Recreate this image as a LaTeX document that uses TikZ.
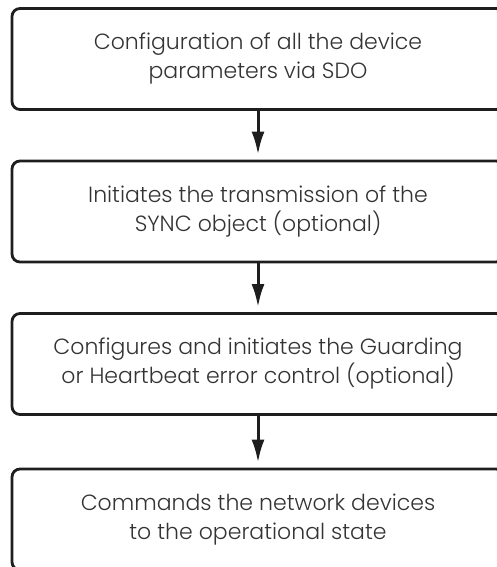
\documentclass[tikz,border=0pt]{standalone}
\usepackage{fontspec}
\setmainfont{Poppins}[UprightFont=* Light]
\usetikzlibrary{arrows.meta}
\definecolor{ink}{HTML}{1E1E1E}
\definecolor{txt}{HTML}{333333}
\tikzset{
  stepbox/.style={draw=ink, line width=2.8pt, rounded corners=8pt,
    minimum width=492pt, minimum height=101pt, inner sep=0pt,
    align=center, text=txt,
    font=\fontsize{22}{29}\selectfont},
  flow/.style={draw=ink, line width=3pt,
    -{Latex[length=23pt,width=13pt]}, shorten >=5pt}
}
\begin{document}
\begin{tikzpicture}[x=1pt,y=-1pt]
  \useasboundingbox (0,0) rectangle (496,567);
  \node[stepbox] (b1) at (258,59) {Configuration of all the device\\parameters via SDO};
  \node[stepbox] (b2) at (258,211.5) {Initiates the transmission of the\\SYNC object (optional)};
  \node[stepbox] (b3) at (258,364) {Configures and initiates the Guarding\\or Heartbeat error control (optional)};
  \node[stepbox] (b4) at (258,519.5) {Commands the network devices\\to the operational state};
  \draw[flow] (b1.south) -- (b2.north);
  \draw[flow] (b2.south) -- (b3.north);
  \draw[flow] (b3.south) -- (b4.north);
\end{tikzpicture}
\end{document}
